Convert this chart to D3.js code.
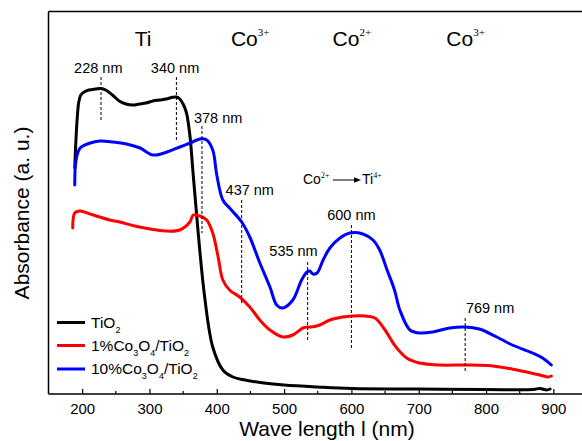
<!DOCTYPE html>
<html>
<head>
<meta charset="utf-8">
<script src="https://cdn.jsdelivr.net/npm/d3@7/dist/d3.min.js"></script>
<style>
  html, body { margin: 0; padding: 0; background: #fff; }
  svg { display: block; font-family: "Liberation Sans", Arial, sans-serif; }
</style>
</head>
<body>
<svg id="chart" width="582" height="441"></svg>
<script>
// UV-Vis absorbance spectra (arbitrary units)
const tio2Wave = [189,192,195,198,203,210,220,228,235,245,255,265,275,285,295,305,315,325,333,340,345,350,355,360,365,372,382,394,409,424,442,470,500,550,600,700,800,870,880,890,895];
const tio2Abs  = [2.26,2.69,2.92,2.99,3.02,3.04,3.05,3.055,3.04,2.99,2.93,2.90,2.89,2.90,2.91,2.93,2.94,2.95,2.965,2.97,2.95,2.90,2.81,2.59,2.19,1.64,0.97,0.47,0.24,0.17,0.14,0.11,0.09,0.07,0.055,0.05,0.045,0.045,0.055,0.04,0.05];

const co1Wave = [186,189,197,212,226,241,256,278,301,323,345,360,365,375,385,394,402,409,419,434,449,464,479,498,513,528,535,541,553,568,587,602,620,635,650,664,682,701,731,771,810,846,880,892,897];
const co1Abs  = [1.66,1.81,1.83,1.80,1.77,1.74,1.72,1.68,1.65,1.63,1.64,1.72,1.79,1.78,1.74,1.61,1.37,1.14,1.04,0.97,0.87,0.74,0.64,0.57,0.59,0.66,0.67,0.67,0.69,0.74,0.77,0.78,0.78,0.76,0.64,0.49,0.36,0.31,0.29,0.29,0.28,0.24,0.19,0.17,0.18];

const co10Wave = [189,191,197,212,226,246,266,286,305,326,345,364,375,385,394,400,409,419,437,449,464,479,489,498,513,526,534,538,543,549,558,568,583,598,617,632,642,653,664,672,687,701,721,746,769,790,816,839,869,884,897];
const co10Abs  = [2.09,2.34,2.46,2.51,2.53,2.52,2.50,2.46,2.39,2.42,2.47,2.52,2.55,2.54,2.44,2.19,1.94,1.86,1.72,1.57,1.31,1.07,0.89,0.86,0.94,1.14,1.22,1.23,1.20,1.21,1.34,1.46,1.56,1.61,1.60,1.54,1.44,1.24,1.04,0.84,0.64,0.61,0.62,0.66,0.67,0.65,0.57,0.49,0.41,0.36,0.29];

const seriesNames  = ["TiO2", "1%Co3O4/TiO2", "10%Co3O4/TiO2"];
const seriesColors = ["#000000", "#ff0000", "#0000ff"];

// Marked band positions: wavelength, dashed-line top/bottom (abs), label
const peakWave   = [228, 340, 378, 437, 535, 600, 769];
const peakTop    = [3.17, 3.17, 2.68, 1.94, 1.32, 1.69, 0.76];
const peakBottom = [2.73, 2.52, 1.61, 0.89, 0.54, 0.44, 0.22];
const peakLabels = ["228 nm", "340 nm", "378 nm", "437 nm", "535 nm", "600 nm", "769 nm"];
const peakLabelWave = [224, 338, 402, 449, 514, 600, 806];
const peakLabelAbs  = [3.21, 3.21, 2.71, 1.99, 1.38, 1.74, 0.81];

// Transition labels along the top (left edge wavelength)
const ionBase  = ["Ti", "Co", "Co", "Co"];
const ionSup   = ["", "3+", "2+", "3+"];
const ionWave  = [278, 421, 572, 741];

const xTicks = [200, 300, 400, 500, 600, 700, 800, 900];
const xMinorTicks = [250, 350, 450, 550, 650, 750, 850];

const svg = d3.select("#chart");
const plotLeft = 48.5, plotTop = 11.5, plotBottom = 394, plotRight = 587;

const x = d3.scaleLinear().domain([150, 950]).range([plotLeft, plotRight]);
const y = d3.scaleLinear().domain([0, 3.825]).range([plotBottom, plotTop]);

// frame: left, top and bottom lines
svg.append("line").attr("x1", plotLeft).attr("x2", plotLeft).attr("y1", plotTop).attr("y2", plotBottom)
  .attr("stroke", "#000").attr("stroke-width", 1.5);
svg.append("line").attr("x1", plotLeft).attr("x2", 582).attr("y1", plotTop).attr("y2", plotTop)
  .attr("stroke", "#000").attr("stroke-width", 1.5);

// bottom axis with inward ticks
const xAxis = d3.axisBottom(x).tickValues(xTicks).tickSizeInner(-5).tickSizeOuter(0).tickPadding(9);
const gx = svg.append("g").attr("transform", `translate(0,${plotBottom})`).call(xAxis);
gx.select(".domain").attr("stroke-width", 1.5).attr("d", `M${plotLeft},0H582`);
gx.selectAll(".tick line").attr("stroke-width", 1.2);
gx.selectAll(".tick text").attr("font-size", 15).attr("font-family", "Liberation Sans, Arial, sans-serif").attr("fill", "#000");
svg.append("g").attr("transform", `translate(0,${plotBottom})`)
  .selectAll("line").data(xMinorTicks).join("line")
  .attr("x1", d => x(d)).attr("x2", d => x(d)).attr("y1", 0).attr("y2", -3)
  .attr("stroke", "#000").attr("stroke-width", 1.2);

// axis titles
svg.append("text").attr("x", 327).attr("y", 436).attr("text-anchor", "middle")
  .attr("font-size", 21).text("Wave length l (nm)");
svg.append("text").attr("transform", "translate(29,213) rotate(-90)").attr("text-anchor", "middle")
  .attr("font-size", 21).text("Absorbance (a. u.)");

// spectra
const line = d3.line().x(d => x(d[0])).y(d => y(d[1])).curve(d3.curveCatmullRom.alpha(0.5));
const series = [
  d3.zip(tio2Wave, tio2Abs),
  d3.zip(co1Wave, co1Abs),
  d3.zip(co10Wave, co10Abs)
];
svg.append("g").selectAll("path").data(series).join("path")
  .attr("d", line).attr("fill", "none")
  .attr("stroke", (d, i) => seriesColors[i]).attr("stroke-width", 3)
  .attr("stroke-linejoin", "round").attr("stroke-linecap", "round");

// dashed band markers
svg.append("g").selectAll("line").data(peakWave).join("line")
  .attr("x1", d => x(d)).attr("x2", d => x(d))
  .attr("y1", (d, i) => y(peakTop[i])).attr("y2", (d, i) => y(peakBottom[i]))
  .attr("stroke", "#000").attr("stroke-width", 1).attr("stroke-dasharray", "3,2");
svg.append("g").selectAll("text").data(peakLabels).join("text")
  .attr("x", (d, i) => x(peakLabelWave[i])).attr("y", (d, i) => y(peakLabelAbs[i]))
  .attr("text-anchor", "middle").attr("font-size", 14.5).text(d => d);

// ion labels along the top
const ions = svg.append("g");
ionBase.forEach((b, i) => {
  const t = ions.append("text").attr("x", x(ionWave[i])).attr("y", 46)
    .attr("font-size", 21);
  t.append("tspan").text(b);
  if (ionSup[i]) {
    t.append("tspan").attr("dy", -10).attr("font-size", 11)
      .attr("font-family", "Liberation Serif, Times New Roman, serif").text(ionSup[i]);
  }
});

// charge-transfer note
const ct = svg.append("g");
const ctT1 = ct.append("text").attr("x", 303).attr("y", 184).attr("font-size", 14);
ctT1.append("tspan").text("Co");
ctT1.append("tspan").attr("dy", -6).attr("font-size", 8)
  .attr("font-family", "Liberation Serif, Times New Roman, serif").text("2+");
ct.append("line").attr("x1", 333).attr("x2", 355).attr("y1", 180).attr("y2", 180)
  .attr("stroke", "#000").attr("stroke-width", 1);
ct.append("path").attr("d", "M354,177.3 L361,180 L354,182.7 Z").attr("fill", "#000");
const ctT2 = ct.append("text").attr("x", 362).attr("y", 184).attr("font-size", 14);
ctT2.append("tspan").text("Ti");
ctT2.append("tspan").attr("dy", -6).attr("font-size", 8)
  .attr("font-family", "Liberation Serif, Times New Roman, serif").text("4+");

// legend
const legendY = [322.5, 345.5, 369];
const legendParts = [
  [["TiO", 0], ["2", 1]],
  [["1%Co", 0], ["3", 1], ["O", 0], ["4", 1], ["/TiO", 0], ["2", 1]],
  [["10%Co", 0], ["3", 1], ["O", 0], ["4", 1], ["/TiO", 0], ["2", 1]]
];
const lg = svg.append("g");
seriesNames.forEach((n, i) => {
  lg.append("line").attr("x1", 57).attr("x2", 85).attr("y1", legendY[i]).attr("y2", legendY[i])
    .attr("stroke", seriesColors[i]).attr("stroke-width", 3);
  const t = lg.append("text").attr("x", 91).attr("y", legendY[i] + 5).attr("font-size", 15.5);
  let sub = false;
  legendParts[i].forEach(([s, isSub]) => {
    const ts = t.append("tspan").text(s);
    if (isSub && !sub) { ts.attr("dy", 5).attr("font-size", 9); sub = true; }
    else if (isSub) { ts.attr("font-size", 9); }
    else if (!isSub && sub) { ts.attr("dy", -5); sub = false; }
  });
});
</script>
</body>
</html>
